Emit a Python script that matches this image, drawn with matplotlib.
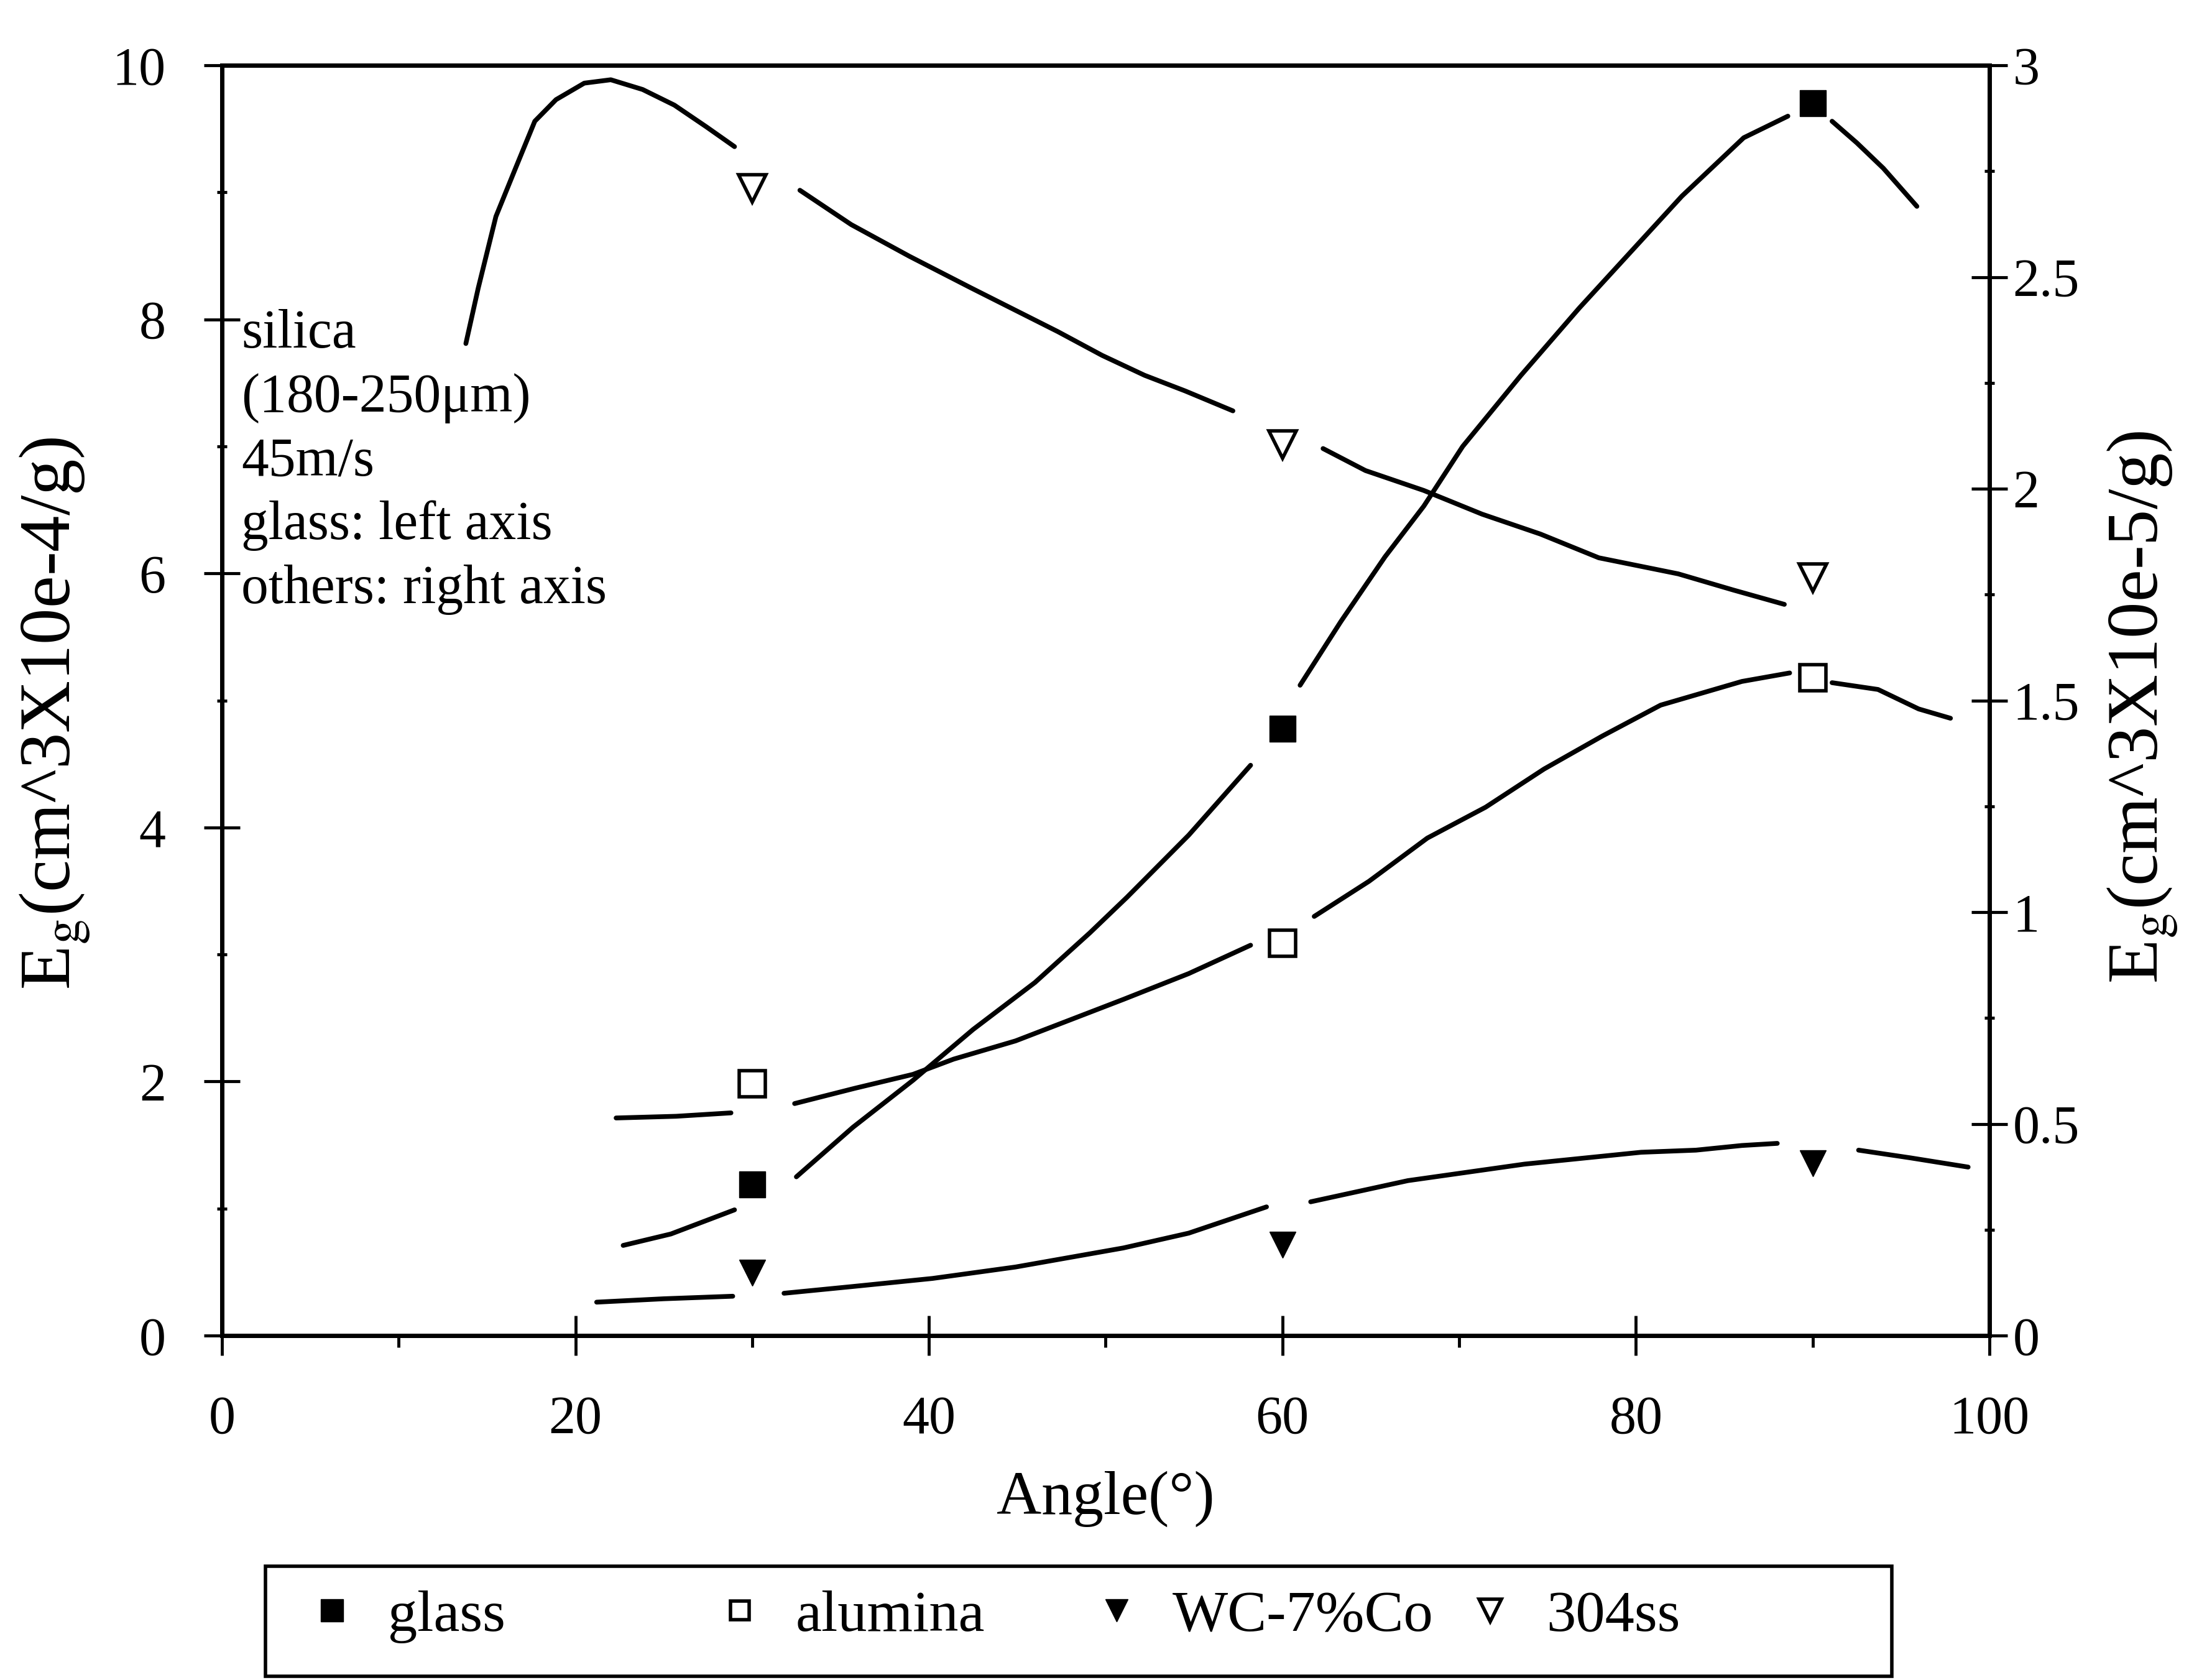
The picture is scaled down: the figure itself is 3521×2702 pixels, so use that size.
import numpy as np
import matplotlib
matplotlib.use("Agg")
import matplotlib.pyplot as plt
from matplotlib.lines import Line2D
from matplotlib.patches import Rectangle

plt.rcParams['font.family'] = ['Liberation Serif', 'DejaVu Serif']
plt.rcParams['mathtext.fontset'] = 'stix'

nan = np.nan

# ---------------- data ----------------
angles = [30, 60, 90]
glass = [1.19, 4.78, 9.70]          # left axis (x1e-4)
alumina = [0.595, 0.927, 1.554]     # right axis (x1e-5)
wc_co = [0.148, 0.214, 0.407]
ss304 = [2.71, 2.105, 1.79]

# fitted curves (gaps around the markers)
glass_curve_x = [22.7, 25.4, 29.0, nan, 32.5, 35.7, 39.1, 42.5, 46.0, 49.1, 51.2, 54.7, 58.2, nan,
                 61.0, 63.3, 65.8, 68.0, 70.2, 73.5, 76.8, 79.7, 82.6, 86.1, 88.6, nan,
                 91.1, 92.5, 94.0, 95.9]
glass_curve_y = [0.71, 0.80, 0.99, nan, 1.25, 1.64, 2.01, 2.41, 2.78, 3.17, 3.45, 3.94, 4.49, nan,
                 5.12, 5.62, 6.13, 6.53, 7.00, 7.56, 8.09, 8.53, 8.97, 9.43, 9.60, nan,
                 9.56, 9.39, 9.19, 8.89]

alumina_curve_x = [22.3, 25.7, 28.8, nan, 32.4, 35.8, 39.1, 41.4, 44.9, 51.0, 54.7, 58.2, nan,
                   61.8, 64.9, 68.2, 71.5, 74.8, 78.1, 81.4, 86.0, 88.7, nan,
                   91.1, 93.7, 96.0, 97.8]
alumina_curve_y = [0.514, 0.518, 0.526, nan, 0.548, 0.584, 0.617, 0.653, 0.696, 0.794, 0.855, 0.922, nan,
                   0.990, 1.073, 1.175, 1.248, 1.338, 1.416, 1.489, 1.545, 1.565, nan,
                   1.542, 1.526, 1.480, 1.458]

wc_curve_x = [21.2, 25.0, 28.9, nan, 31.8, 35.7, 40.2, 44.9, 51.0, 54.7, 59.1, nan,
              61.6, 67.1, 73.7, 80.3, 83.4, 86.0, 88.0, nan, 92.6, 95.5, 98.8]
wc_curve_y = [0.079, 0.087, 0.093, nan, 0.100, 0.116, 0.135, 0.162, 0.207, 0.242, 0.304, nan,
              0.316, 0.366, 0.405, 0.433, 0.438, 0.449, 0.454, nan, 0.438, 0.420, 0.398]

ss_curve_x = [13.8, 14.5, 15.5, 16.6, 17.7, 18.9, 20.5, 22.0, 23.8, 25.6, 27.4, 29.0, nan,
              32.7, 35.6, 38.9, 42.4, 47.3, 49.8, 52.2, 54.5, 57.2, nan,
              62.3, 64.7, 68.0, 71.3, 74.6, 77.9, 82.4, 85.5, 88.4]
ss_curve_y = [2.343, 2.474, 2.643, 2.756, 2.868, 2.919, 2.958, 2.966, 2.943, 2.906, 2.855, 2.808, nan,
              2.705, 2.624, 2.549, 2.474, 2.371, 2.315, 2.268, 2.231, 2.184, nan,
              2.095, 2.043, 1.996, 1.940, 1.893, 1.837, 1.799, 1.761, 1.727]

x_ticks = [0, 20, 40, 60, 80, 100]
left_ticks = [0, 2, 4, 6, 8, 10]
right_ticks = [0, 0.5, 1, 1.5, 2, 2.5, 3]
right_ticklabels = ['0', '0.5', '1', '1.5', '2', '2.5', '3']
legend_labels = ['glass', 'alumina', 'WC-7%Co', '304ss']

# ---------------- figure ----------------
fig = plt.figure(figsize=(35.21, 27.02), dpi=100)
ax = fig.add_axes([0.1014, 0.2050, 0.8074, 0.7561])
ax2 = ax.twinx()

LW = 5.5
kw = dict(color='k', lw=LW, solid_capstyle='round', solid_joinstyle='round')
ax.plot(glass_curve_x, glass_curve_y, **kw)
ax.plot(angles, glass, linestyle='none', marker='s', ms=30, color='k')

ax2.plot(alumina_curve_x, alumina_curve_y, **kw)
ax2.plot(wc_curve_x, wc_curve_y, **kw)
ax2.plot(ss_curve_x, ss_curve_y, **kw)
ax2.plot(angles, alumina, linestyle='none', marker='s', ms=30, mfc='white', mec='k', mew=4)
ax2.plot(angles, wc_co, linestyle='none', marker='v', ms=30, color='k')
ax2.plot(angles, ss304, linestyle='none', marker='v', ms=32, mfc='white', mec='k', mew=4)

ax.set_xlim(0, 100)
ax.set_ylim(0, 10)
ax2.set_ylim(0, 3)

for a in (ax, ax2):
    for s in a.spines.values():
        s.set_linewidth(5)

ax.set_xticks(x_ticks)
ax.set_xticklabels([str(v) for v in x_ticks])
ax.set_xticks(list(range(10, 100, 20)), minor=True)
ax.tick_params(axis='x', which='major', direction='inout', length=46, width=3.5, pad=46, labelsize=62, top=False)
ax.tick_params(axis='x', which='minor', direction='out', length=14, width=3.5, top=False)

ax.set_yticks(left_ticks)
ax.set_yticklabels([str(v) for v in left_ticks])
ax.set_yticks(list(range(1, 10, 2)), minor=True)
ax.tick_params(axis='y', which='major', direction='inout', length=42, width=3.5, pad=44, labelsize=62, right=False)
ax.tick_params(axis='y', which='minor', direction='inout', length=12, width=3.5, right=False)

ax2.set_yticks(right_ticks)
ax2.set_yticklabels(right_ticklabels)
ax2.set_yticks([0.25, 0.75, 1.25, 1.75, 2.25, 2.75], minor=True)
ax2.tick_params(axis='y', which='major', direction='inout', length=42, width=3.5, pad=6, labelsize=62)
ax2.tick_params(axis='y', which='minor', direction='inout', length=12, width=3.5)

ax.set_xlabel('Angle(°)', fontsize=72, labelpad=30)
ax.set_ylabel('E$_{\\mathrm{g}}$(cm^3X10e-4/g)', fontsize=84, rotation=90, va='center', ha='center',
              rotation_mode='anchor')
ax.yaxis.set_label_coords(-0.094, 0.49)
ax2.set_ylabel('E$_{\\mathrm{g}}$(cm^3X10e-5/g)', fontsize=84, rotation=90, va='center', ha='center',
               rotation_mode='anchor')
ax2.yaxis.set_label_coords(1.087, 0.495)

ax.text(1.1, 8.08, 'silica\n(180-250μm)\n45m/s\nglass: left axis\nothers: right axis',
        fontsize=63, va='top', ha='left', linespacing=1.345)

# ---------------- legend ----------------
handles = [
    Line2D([], [], linestyle='none', marker='s', ms=26, color='k'),
    Line2D([], [], linestyle='none', marker='s', ms=22, mfc='white', mec='k', mew=4),
    Line2D([], [], linestyle='none', marker='v', ms=26, color='k'),
    Line2D([], [], linestyle='none', marker='v', ms=26, mfc='white', mec='k', mew=4),
]
leg_x = [487 / 3521, 1143 / 3521, 1749 / 3521, 2350 / 3521]
for h, lab, xx in zip(handles, legend_labels, leg_x):
    fig.legend(handles=[h], labels=[lab], loc='center left', bbox_to_anchor=(xx, 0.0377),
               frameon=False, borderpad=0, borderaxespad=0, handlelength=1.0,
               handletextpad=0.45, fontsize=68)

fig.add_artist(Rectangle((0.1213, 0.0022), 0.743, 0.0655, transform=fig.transFigure,
                         fill=False, lw=4, ec='k'))

fig.savefig('out.png', dpi=100, facecolor='white')
